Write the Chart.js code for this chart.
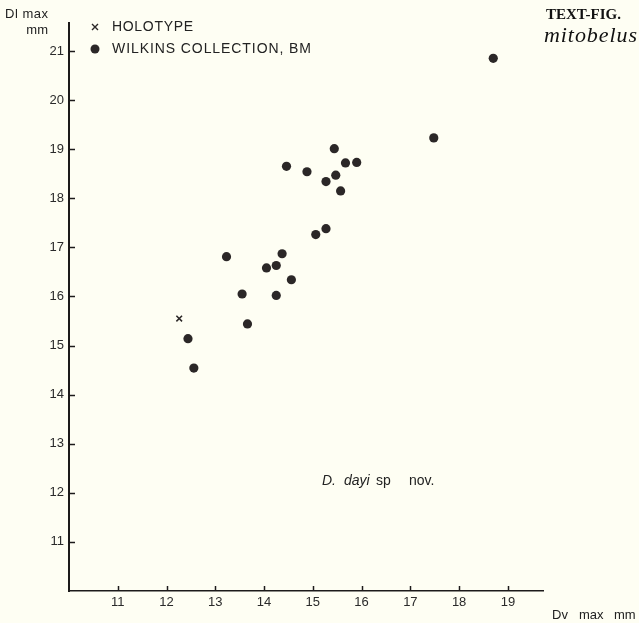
<!DOCTYPE html>
<html>
<head>
<meta charset="utf-8">
<script src="https://cdn.jsdelivr.net/npm/chart.js@4/dist/chart.umd.min.js"></script>
<style>
  html, body { margin:0; padding:0; background:#fefef3; }
  #wrap { width:639px; height:623px; position:relative; }
</style>
</head>
<body>
<div id="wrap"><canvas id="c" width="639" height="623"></canvas></div>
<script>
// ---- data ----
const holotypeDv = [12.26];
const holotypeDl = [15.55];

const wilkinsDv = [12.44, 12.56, 13.23, 13.55, 13.66, 14.05, 14.25, 14.25, 14.37, 14.56,
                   14.46, 14.88, 15.06, 15.27, 15.27, 15.44, 15.47, 15.57, 15.67, 15.90,
                   17.48, 18.70];
const wilkinsDl = [15.14, 14.54, 16.81, 16.05, 15.44, 16.58, 16.63, 16.02, 16.87, 16.34,
                   18.65, 18.54, 17.26, 17.38, 18.34, 19.01, 18.47, 18.15, 18.72, 18.73,
                   19.23, 20.85];

const xTicks = [11, 12, 13, 14, 15, 16, 17, 18, 19];
const yTicks = [11, 12, 13, 14, 15, 16, 17, 18, 19, 20, 21];

const seriesNames = ['HOLOTYPE', 'WILKINS COLLECTION, BM'];

// ---- build ----
const toPts = (xs, ys) => xs.map((x, i) => ({x: x, y: ys[i]}));
const INK = '#2b2727';
const SANS = '"Liberation Sans", Arial, sans-serif';
const SERIF = '"Liberation Serif", "Times New Roman", serif';

// draw text stretched (via letter spacing) to a target width
function fitText(ctx, text, x, y, width, font) {
  ctx.font = font;
  ctx.letterSpacing = '0px';
  const w0 = ctx.measureText(text).width;
  const n = Math.max(1, text.length - 1);
  const ls = Math.max(0, (width - w0) / n);
  ctx.letterSpacing = ls.toFixed(2) + 'px';
  ctx.fillText(text, x, y);
  ctx.letterSpacing = '0px';
}

const extras = {
  id: 'extras',
  beforeDraw(chart) {
    const ctx = chart.ctx;
    ctx.save();
    ctx.fillStyle = '#fefef3';
    ctx.fillRect(0, 0, chart.width, chart.height);
    ctx.restore();
  },
  afterDraw(chart) {
    const ctx = chart.ctx;
    const xs = chart.scales.x, ys = chart.scales.y;
    const ca = chart.chartArea;
    ctx.save();
    ctx.strokeStyle = '#1c1a1a';
    ctx.lineWidth = 1.5;
    // inward tick marks
    xTicks.forEach(v => {
      const px = Math.round(xs.getPixelForValue(v)) + 0.5;
      ctx.beginPath(); ctx.moveTo(px, ca.bottom); ctx.lineTo(px, ca.bottom - 5); ctx.stroke();
    });
    yTicks.forEach(v => {
      const py = Math.round(ys.getPixelForValue(v)) + 0.5;
      ctx.beginPath(); ctx.moveTo(ca.left, py); ctx.lineTo(ca.left + 6, py); ctx.stroke();
    });

    ctx.fillStyle = '#222';
    ctx.textBaseline = 'middle';
    ctx.textAlign = 'left';
    // y axis title
    fitText(ctx, 'Dl max', 5, 14, 43, '13px ' + SANS);
    ctx.textAlign = 'right';
    ctx.font = '13px ' + SANS;
    ctx.fillText('mm', 48, 30);
    ctx.textAlign = 'left';
    // x axis title
    ctx.font = '13px ' + SANS;
    ctx.fillText('Dv', 552, 615);
    ctx.fillText('max', 579, 615);
    ctx.fillText('mm', 614, 615);

    // legend
    ctx.strokeStyle = INK; ctx.lineWidth = 1.4;
    ctx.beginPath();
    ctx.moveTo(92, 24); ctx.lineTo(98, 30);
    ctx.moveTo(98, 24); ctx.lineTo(92, 30);
    ctx.stroke();
    ctx.fillStyle = INK;
    ctx.beginPath(); ctx.arc(95, 49, 4.5, 0, Math.PI * 2); ctx.fill();
    ctx.fillStyle = '#222';
    fitText(ctx, seriesNames[0], 112, 27, 81, '14px ' + SANS);
    fitText(ctx, seriesNames[1], 112, 49, 199, '14px ' + SANS);

    // species annotation
    ctx.font = 'italic 14px ' + SANS;
    ctx.fillText('D.', 322, 481);
    ctx.fillText('dayi', 344, 481);
    ctx.font = '14px ' + SANS;
    ctx.fillText('sp', 376, 481);
    ctx.fillText('nov.', 409, 481);

    // caption fragment
    ctx.fillStyle = '#111';
    fitText(ctx, 'TEXT-FIG.', 546, 15, 74, 'bold 15px ' + SERIF);
    fitText(ctx, 'mitobelus', 544, 36, 93, 'italic 22px ' + SERIF);
    ctx.restore();
  }
};

new Chart(document.getElementById('c'), {
  type: 'scatter',
  data: {
    datasets: [
      {
        label: seriesNames[0],
        data: toPts(holotypeDv, holotypeDl),
        pointStyle: 'crossRot',
        radius: 4,
        borderColor: INK,
        borderWidth: 1.5,
        backgroundColor: INK
      },
      {
        label: seriesNames[1],
        data: toPts(wilkinsDv, wilkinsDl),
        pointStyle: 'circle',
        radius: 4.6,
        borderWidth: 0,
        backgroundColor: INK,
        borderColor: INK
      }
    ]
  },
  options: {
    responsive: false,
    animation: false,
    devicePixelRatio: 1,
    layout: { padding: { left: 0, top: 23, right: 96, bottom: 0 } },
    plugins: { legend: { display: false }, tooltip: { enabled: false } },
    scales: {
      x: {
        type: 'linear',
        min: 10, max: 19.72,
        afterBuildTicks: s => { s.ticks = xTicks.map(v => ({value: v})); },
        afterFit: s => { s.height = 32; },
        grid: { display: false, drawTicks: false },
        border: { display: true, color: '#1c1a1a', width: 1.6 },
        ticks: { color: '#2a2a2a', font: { family: SANS, size: 13 }, padding: 4, maxRotation: 0 }
      },
      y: {
        type: 'linear',
        min: 10, max: 21.57,
        afterBuildTicks: s => { s.ticks = yTicks.map(v => ({value: v})); },
        afterFit: s => { s.width = 69; },
        grid: { display: false, drawTicks: false },
        border: { display: true, color: '#1c1a1a', width: 2 },
        ticks: { color: '#2a2a2a', font: { family: SANS, size: 13 }, padding: 5 }
      }
    }
  },
  plugins: [extras]
});
</script>
</body>
</html>
